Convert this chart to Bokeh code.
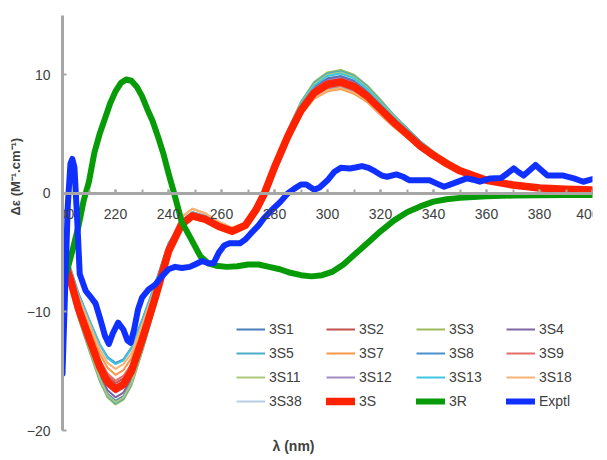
from bokeh.plotting import figure
from bokeh.models import (Range1d, SingleIntervalTicker, Legend, LegendItem, Title)
from bokeh.embed import file_html
from bokeh.resources import INLINE

# ---------------- data ----------------
wl_calc = [200, 203, 206, 210, 214, 217, 220, 223, 226, 230, 235, 240,
           245, 249, 254, 259, 264, 269, 273, 276,
           280, 285, 290, 295, 300, 305, 310, 315, 320, 325, 330, 335, 340, 345, 350, 360, 370, 380, 390, 400]

d_3S1 = [-5.5, -7.7, -10.3, -12.9, -15.5, -16.9, -17.5, -17.1, -15.9, -13.2, -9.3, -5.2,
         -2.6, -1.9, -2.2, -2.8, -3.2, -2.7, -1.4, -0.1,
         2.3, 5.1, 7.4, 9.0, 9.7, 9.9, 9.5, 8.6, 7.5, 6.3, 5.3, 4.2, 3.4, 2.6, 2.0, 1.2, 0.7, 0.47, 0.37, 0.29]
d_3S2 = [-5.0, -7.1, -9.4, -11.8, -14.2, -15.4, -16.0, -15.6, -14.6, -12.0, -8.5, -4.8,
         -2.5, -1.8, -2.1, -2.7, -3.1, -2.6, -1.3, -0.1,
         2.2, 4.9, 7.1, 8.7, 9.4, 9.6, 9.2, 8.4, 7.2, 6.1, 5.1, 4.1, 3.3, 2.6, 1.9, 1.1, 0.7, 0.46, 0.36, 0.29]
d_3S3 = [-5.6, -7.9, -10.5, -13.2, -15.8, -17.2, -17.8, -17.4, -16.2, -13.4, -9.5, -5.3,
         -2.7, -2.0, -2.3, -2.9, -3.3, -2.8, -1.5, -0.1,
         2.4, 5.3, 7.7, 9.4, 10.2, 10.4, 10.0, 9.1, 7.9, 6.6, 5.5, 4.4, 3.5, 2.8, 2.1, 1.2, 0.8, 0.5, 0.39, 0.31]
d_3S4 = [-5.4, -7.6, -10.1, -12.7, -15.2, -16.6, -17.2, -16.8, -15.6, -12.9, -9.2, -5.1,
         -2.6, -1.9, -2.2, -2.8, -3.2, -2.7, -1.4, -0.1,
         2.3, 5.0, 7.3, 8.9, 9.6, 9.8, 9.4, 8.5, 7.4, 6.3, 5.2, 4.2, 3.3, 2.6, 2.0, 1.1, 0.73, 0.47, 0.36, 0.29]
d_3S5 = [-5.6, -7.8, -10.4, -13.1, -15.7, -17.1, -17.7, -17.3, -16.1, -13.3, -9.4, -5.3,
         -2.6, -1.9, -2.2, -2.8, -3.2, -2.7, -1.4, -0.1,
         2.4, 5.3, 7.7, 9.3, 10.1, 10.3, 9.9, 9.0, 7.8, 6.6, 5.5, 4.4, 3.5, 2.7, 2.1, 1.2, 0.77, 0.49, 0.38, 0.31]
d_3S7 = [-4.8, -6.8, -9.0, -11.3, -13.5, -14.7, -15.3, -14.9, -13.9, -11.5, -8.2, -4.5,
         -2.0, -1.3, -1.7, -2.4, -2.9, -2.5, -1.3, -0.1,
         2.1, 4.5, 6.6, 8.0, 8.6, 8.8, 8.4, 7.7, 6.6, 5.6, 4.7, 3.7, 3.0, 2.3, 1.8, 1.0, 0.66, 0.42, 0.33, 0.26]
d_3S8 = [-4.5, -6.3, -8.4, -10.6, -12.7, -13.8, -14.3, -14.0, -13.0, -10.7, -7.6, -4.2,
         -2.4, -1.7, -2.0, -2.6, -3.0, -2.5, -1.3, -0.1,
         2.1, 4.6, 6.7, 8.1, 8.8, 9.0, 8.6, 7.9, 6.8, 5.7, 4.8, 3.8, 3.1, 2.4, 1.8, 1.05, 0.67, 0.43, 0.34, 0.27]
d_3S9 = [-5.0, -7.0, -9.3, -11.7, -14.0, -15.2, -15.8, -15.4, -14.4, -11.9, -8.4, -4.7,
         -2.3, -1.6, -1.9, -2.5, -3.0, -2.6, -1.3, -0.1,
         2.1, 4.6, 6.8, 8.2, 8.9, 9.1, 8.7, 7.9, 6.9, 5.8, 4.8, 3.9, 3.1, 2.4, 1.8, 1.06, 0.68, 0.44, 0.34, 0.27]
d_3S11 = [-5.5, -7.8, -10.3, -13.0, -15.6, -17.0, -17.6, -17.2, -16.0, -13.2, -9.4, -5.2,
          -2.8, -2.1, -2.4, -3.0, -3.4, -2.8, -1.5, -0.1,
          2.4, 5.2, 7.6, 9.2, 10.0, 10.2, 9.8, 8.9, 7.7, 6.5, 5.4, 4.3, 3.5, 2.7, 2.1, 1.2, 0.76, 0.49, 0.38, 0.3]
d_3S12 = [-5.3, -7.4, -9.9, -12.4, -14.9, -16.2, -16.8, -16.4, -15.3, -12.6, -9.0, -5.0,
          -2.6, -1.9, -2.2, -2.8, -3.2, -2.7, -1.4, -0.1,
          2.3, 5.0, 7.2, 8.8, 9.5, 9.7, 9.3, 8.5, 7.3, 6.2, 5.2, 4.1, 3.3, 2.6, 2.0, 1.1, 0.72, 0.46, 0.36, 0.29]
d_3S13 = [-4.5, -6.4, -8.5, -10.6, -12.7, -13.9, -14.4, -14.1, -13.1, -10.8, -7.7, -4.3,
          -2.3, -1.6, -1.9, -2.5, -3.0, -2.6, -1.3, -0.1,
          2.4, 5.2, 7.5, 9.1, 9.9, 10.1, 9.7, 8.8, 7.6, 6.4, 5.4, 4.3, 3.4, 2.7, 2.0, 1.2, 0.75, 0.48, 0.38, 0.3]
d_3S18 = [-4.7, -6.5, -8.7, -10.9, -13.1, -14.3, -14.8, -14.4, -13.5, -11.1, -7.9, -4.4,
          -2.0, -1.3, -1.7, -2.4, -2.9, -2.5, -1.3, -0.1,
          2.1, 4.5, 6.6, 8.0, 8.7, 8.9, 8.5, 7.8, 6.7, 5.7, 4.7, 3.8, 3.0, 2.4, 1.8, 1.04, 0.66, 0.43, 0.33, 0.27]
d_3S38 = [-5.1, -7.2, -9.5, -12.0, -14.3, -15.6, -16.2, -15.8, -14.7, -12.2, -8.6, -4.8,
          -2.5, -1.8, -2.1, -2.7, -3.1, -2.6, -1.3, -0.1,
          2.2, 4.9, 7.1, 8.6, 9.3, 9.5, 9.1, 8.3, 7.2, 6.1, 5.1, 4.0, 3.2, 2.5, 1.9, 1.1, 0.71, 0.45, 0.35, 0.28]
d_3S = [-5.2, -7.3, -9.7, -12.2, -14.6, -15.9, -16.5, -16.1, -15.0, -12.4, -8.8, -4.9,
        -2.6, -1.9, -2.2, -2.8, -3.2, -2.7, -1.4, -0.1,
        2.2, 4.8, 7.0, 8.5, 9.2, 9.4, 9.0, 8.2, 7.1, 6.0, 5.0, 4.0, 3.2, 2.5, 1.9, 1.1, 0.7, 0.45, 0.35, 0.28]

wl_3R = [200, 202, 204, 206, 208, 210, 212, 214, 216, 218, 220, 222, 224, 226, 228, 230, 232, 234,
         236, 238, 240, 242, 245, 249, 252, 255, 258, 262, 266, 270, 274, 278, 282, 286, 290, 294,
         298, 302, 306, 310, 315, 320, 325, 330, 335, 340, 345, 350, 360, 370, 380, 390, 400]
d_3R = [-8.0, -6.3, -4.6, -2.8, -0.6, 1.0, 3.4, 5.0, 6.3, 7.6, 8.6, 9.3, 9.6, 9.5, 9.0, 8.2, 7.1, 6.1,
        4.8, 3.4, 1.7, 0.1, -2.4, -4.05, -5.3, -5.9, -6.1, -6.2, -6.15, -6.0, -6.0, -6.2, -6.4, -6.7, -6.9, -7.0,
        -6.9, -6.6, -6.0, -5.2, -4.2, -3.2, -2.3, -1.6, -1.1, -0.7, -0.5, -0.38, -0.25, -0.18, -0.15, -0.14, -0.14]

wl_exp = [200, 201, 202, 203, 203.7, 204.5, 205.5, 206.5, 208.7, 210.5, 212.5, 214.5, 216, 217.5, 219,
          221, 223, 224.5, 225.7, 227, 228.5, 230, 232.5, 235, 237.5, 240, 242.5, 245, 248, 250, 252.7,
          255, 257, 259, 261, 263, 267, 269, 271, 274, 276, 279, 282.3, 285, 287.5, 290, 292, 295, 297,
          300, 302.5, 305, 308.5, 311, 313, 315.5, 318, 320.5, 322.5, 326, 328.5, 331, 334, 338.5, 341.5,
          344, 347.5, 350, 352.5, 355, 357.5, 361.5, 365.5, 368, 370.3, 372, 374, 376.5, 378.5, 380.5,
          383, 386, 389, 393, 396.5, 400]
d_exp = [-15.2, -8.0, -1.0, 2.5, 2.9, 2.2, -2.0, -6.8, -8.2, -8.7, -9.3, -10.8, -12.0, -12.7, -11.8,
         -10.9, -11.5, -12.4, -12.6, -11.5, -9.8, -8.8, -8.1, -7.7, -7.0, -6.4, -6.2, -6.3, -6.2, -6.0, -5.7,
         -5.9, -5.9, -5.0, -4.4, -4.2, -4.2, -3.9, -3.4, -2.7, -2.1, -1.4, -0.7, 0.0, 0.4, 0.75, 0.75, 0.3, 0.5,
         1.1, 1.8, 2.15, 2.1, 2.2, 2.3, 2.15, 1.85, 1.5, 1.4, 1.6, 1.4, 1.1, 1.1, 1.1, 0.8,
         0.56, 0.84, 1.05, 1.26, 1.15, 0.98, 1.26, 1.3, 1.7, 2.1, 1.8, 1.5, 2.0, 2.4, 2.0,
         1.5, 1.5, 1.5, 1.26, 0.98, 1.2]

thin_names = ["3S1", "3S2", "3S3", "3S4", "3S5", "3S7", "3S8", "3S9", "3S11", "3S12", "3S13", "3S18", "3S38"]
thin_data = [d_3S1, d_3S2, d_3S3, d_3S4, d_3S5, d_3S7, d_3S8, d_3S9, d_3S11, d_3S12, d_3S13, d_3S18, d_3S38]
thin_colors = ["#4A7EBB", "#C0504D", "#9BBB59", "#8064A2", "#4BACC6", "#F79646", "#4A90CF",
               "#E46D6A", "#ABC979", "#A08CC4", "#3EC5E0", "#F9B275", "#B9CDE5"]

x_ticks_interval = 20
y_ticks_interval = 10

# ---------------- figure ----------------
FONT = "Liberation Sans"
TXT = "#404040"
AX = "#A6A6A6"

p = figure(width=599, height=458, output_backend="svg", toolbar_location=None,
           x_range=Range1d(200, 400), y_range=Range1d(-20, 15),
           min_border_left=62, min_border_right=7, min_border_top=15, min_border_bottom=25)
p.grid.visible = False
p.outline_line_color = None
p.background_fill_color = "white"
p.border_fill_color = "white"

xa = p.xaxis[0]
xa.fixed_location = 0
xa.ticker = SingleIntervalTicker(interval=x_ticks_interval, num_minor_ticks=2)
xa.axis_line_color = AX
xa.axis_line_width = 3
xa.major_tick_line_color = AX
xa.major_tick_line_width = 2
xa.major_tick_in = 4
xa.major_tick_out = 0
xa.minor_tick_line_color = AX
xa.minor_tick_line_width = 2
xa.minor_tick_in = 4
xa.minor_tick_out = 0
xa.major_label_standoff = 16
xa.major_label_text_font = FONT
xa.major_label_text_font_size = "14px"
xa.major_label_text_color = TXT

ya = p.yaxis[0]
ya.ticker = SingleIntervalTicker(interval=y_ticks_interval, num_minor_ticks=0)
ya.axis_line_color = AX
ya.axis_line_width = 3
ya.major_tick_line_color = AX
ya.major_tick_line_width = 2
ya.major_tick_in = 4
ya.major_tick_out = 0
ya.minor_tick_line_color = None
ya.major_label_standoff = 12
ya.major_label_text_font = FONT
ya.major_label_text_font_size = "14px"
ya.major_label_text_color = TXT

items = []
for name, d, c in zip(thin_names, thin_data, thin_colors):
    r = p.line(wl_calc, d, line_color=c, line_width=2)
    items.append(LegendItem(label=name, renderers=[r]))

r3S = p.line(wl_calc, d_3S, line_color="#FF2200", line_width=7.5, line_cap="round", line_join="round")
r3R = p.line(wl_3R, d_3R, line_color="#079B07", line_width=6, line_cap="round", line_join="round")
rEx = p.line(wl_exp, d_exp, line_color="#1030FF", line_width=6, line_cap="round", line_join="round")
items += [LegendItem(label="3S", renderers=[r3S]),
          LegendItem(label="3R", renderers=[r3R]),
          LegendItem(label="Exptl", renderers=[rEx])]

legend = Legend(items=items, location=(174, 18), orientation="horizontal", ncols=4,
                glyph_width=29, glyph_height=22, label_height=22, label_width=55,
                label_standoff=4, spacing=2, padding=0, margin=0,
                border_line_alpha=0, background_fill_alpha=0,
                label_text_font=FONT, label_text_font_size="14px", label_text_color=TXT)
p.add_layout(legend, "center")

ytitle = Title(text="\u0394\u03b5 (M\u207b\u00b9.cm\u207b\u00b9)", align="left", offset=215, standoff=2,
               text_font=FONT, text_font_style="bold", text_font_size="13px", text_color=TXT)
xtitle = Title(text="\u03bb (nm)", align="left", offset=210,
               text_font=FONT, text_font_style="bold", text_font_size="14px", text_color=TXT)
p.add_layout(ytitle, "left")
p.add_layout(xtitle, "below")

open("out.html", "w").write(file_html(p, INLINE))
